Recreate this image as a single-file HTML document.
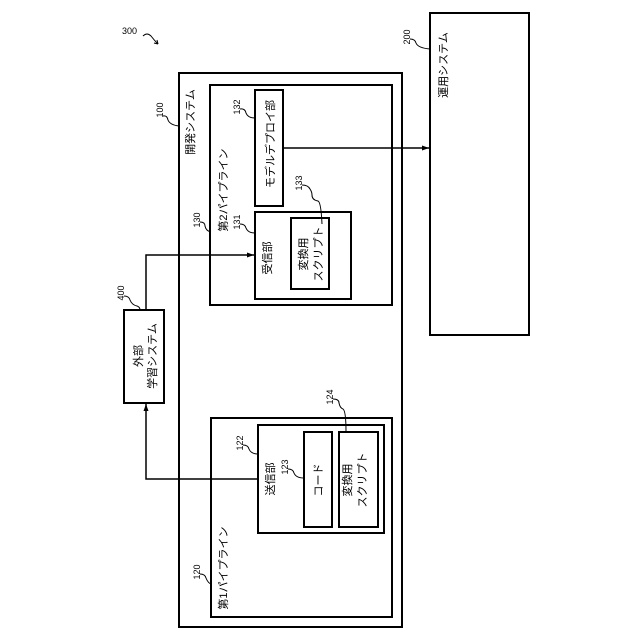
<!DOCTYPE html>
<html><head><meta charset="utf-8"><style>html,body{margin:0;padding:0;background:#fff}svg{display:block}text{font-family:"Liberation Sans","Noto Sans CJK JP",sans-serif;fill:#000}</style></head>
<body>
<svg width="640" height="640" viewBox="0 0 640 640" xmlns="http://www.w3.org/2000/svg">
<defs><marker id="a" markerWidth="8" markerHeight="8" refX="7" refY="4" orient="auto" markerUnits="userSpaceOnUse"><path d="M0,1.5 L7,4 L0,6.5 z" fill="#000"/></marker></defs>
<g fill="none" stroke="#000" stroke-width="2">
<rect x="179" y="73" width="223" height="554"/>
<rect x="210" y="85" width="182" height="220"/>
<rect x="255" y="90" width="28" height="116"/>
<rect x="255" y="212" width="96" height="87"/>
<rect x="291" y="218" width="38" height="71"/>
<rect x="430" y="13" width="99" height="322"/>
<rect x="124" y="310" width="40" height="93"/>
<rect x="211" y="418" width="181" height="199"/>
<rect x="258" y="425" width="126" height="108"/>
<rect x="304" y="432" width="28" height="95"/>
<rect x="339" y="432" width="39" height="95"/>
</g>
<g fill="none" stroke="#000" stroke-width="1.5">
<path d="M283,148 H429" marker-end="url(#a)"/>
<path d="M146,310 V255 H254" marker-end="url(#a)"/>
<path d="M258,479 H146 V404" marker-end="url(#a)"/>
</g>
<g fill="none" stroke="#000" stroke-width="1">
<path d="M143,36 q4,-4 8,0 q3,4 7,8" />
<path d="M158,44 l-4,-1 M158,44 l-1,-4"/>
<path d="M163,116 q4,-1 5,4 q2,5 11,6"/>
<path d="M240,109 q5,-1 6,4 q2,5 9,5"/>
<path d="M200,222 q5,0 5,4 q1,5 6,6"/>
<path d="M240,224 q5,0 6,4 q2,5 9,5"/>
<path d="M302,185 q6,0 8,4 q2,3 2,6 q0,5 6,6 q3,1 4,23"/>
<path d="M124,296 q5,0 6,4 q2,5 7,6 q3,1 3,4"/>
<path d="M410,39 q5,0 6,4 q2,5 14,6"/>
<path d="M333,399 q6,0 6,4 q1,5 4,6 q3,2 3,23"/>
<path d="M243,445 q5,0 6,4 q2,5 9,5"/>
<path d="M288,469 q5,0 6,4 q2,5 10,5"/>
<path d="M200,574 q5,0 6,4 q2,5 5,6"/>
</g>
<text x="122" y="34" font-size="9">300</text>
<g font-size="9" text-anchor="middle">
<text transform="translate(163,110) rotate(-90)">100</text>
<text transform="translate(240,107) rotate(-90)">132</text>
<text transform="translate(200,220) rotate(-90)">130</text>
<text transform="translate(240,222) rotate(-90)">131</text>
<text transform="translate(302,183) rotate(-90)">133</text>
<text transform="translate(124,293) rotate(-90)">400</text>
<text transform="translate(410,37) rotate(-90)">200</text>
<text transform="translate(333,397) rotate(-90)">124</text>
<text transform="translate(243,443) rotate(-90)">122</text>
<text transform="translate(288,467) rotate(-90)">123</text>
<text transform="translate(200,572) rotate(-90)">120</text>
</g>
<g font-size="11" text-anchor="middle">
<text transform="translate(194,122) rotate(-90)">開発システム</text>
<text transform="translate(274,144) rotate(-90)">モデルデプロイ部</text>
<text transform="translate(227,190) rotate(-90)">第2パイプライン</text>
<text transform="translate(271,258) rotate(-90)">受信部</text>
<text transform="translate(307,254) rotate(-90)">変換用</text>
<text transform="translate(322,254) rotate(-90)">スクリプト</text>
<text transform="translate(142,356) rotate(-90)">外部</text>
<text transform="translate(156,356) rotate(-90)">学習システム</text>
<text transform="translate(447,65) rotate(-90)">運用システム</text>
<text transform="translate(274,479) rotate(-90)">送信部</text>
<text transform="translate(322,480) rotate(-90)">コード</text>
<text transform="translate(351,480) rotate(-90)">変換用</text>
<text transform="translate(366,480) rotate(-90)">スクリプト</text>
<text transform="translate(227,568) rotate(-90)">第1パイプライン</text>
</g>
</svg>
</body></html>
